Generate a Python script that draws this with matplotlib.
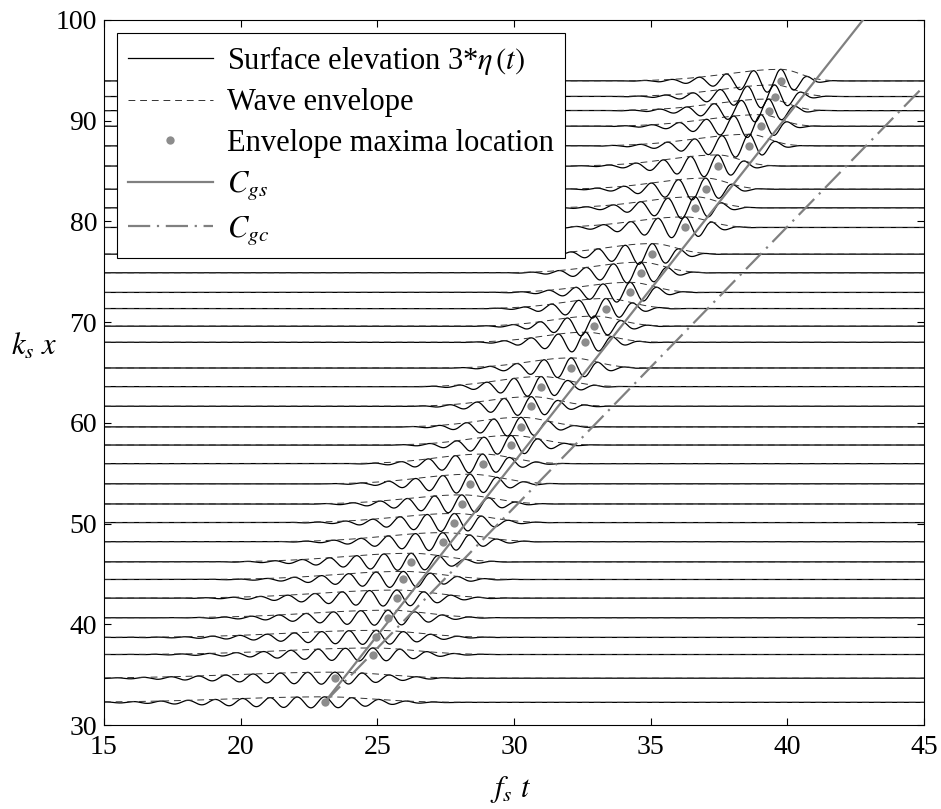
import numpy as np
import matplotlib.pyplot as plt
from matplotlib.lines import Line2D

# gauge positions k_s x and time of the envelope maximum f_s t at each gauge
levels = [32.25, 34.65, 37.0, 38.7, 40.65, 42.6, 44.45, 46.2, 48.2, 50.1,
          51.95, 53.95, 55.95, 57.8, 59.6, 61.65, 63.6, 65.45, 68.0, 69.6,
          71.35, 72.95, 74.9, 76.75, 79.4, 81.35, 83.2, 85.5, 87.5, 89.45,
          91.0, 92.4, 93.95]
t_max = [23.07, 23.45, 24.83, 24.96, 25.39, 25.71, 25.95, 26.24, 27.39, 27.82,
         28.09, 28.39, 28.85, 29.89, 30.25, 30.63, 30.99, 32.09, 32.61, 32.94,
         33.36, 34.25, 34.63, 35.06, 36.26, 36.62, 37.01, 37.45, 38.6, 39.03,
         39.31, 39.53, 39.76]
# envelope peak (3*eta) and rise / decay widths of each packet
amp = [0.55, 0.6, 0.65, 0.7, 0.75, 0.8, 0.8, 0.85, 0.9, 0.9,
       0.9, 0.95, 0.95, 0.95, 0.95, 0.95, 1.0, 1.0, 1.0, 1.0,
       1.0, 1.0, 1.05, 1.05, 1.05, 1.1, 1.1, 1.1, 1.15, 1.15,
       1.15, 1.15, 1.15]
rise = [5.0, 5.0, 4.5, 4.5, 4.0, 4.0, 3.5, 3.5, 3.0, 3.0,
        2.8, 2.6, 2.4, 2.2, 2.2, 2.2, 2.2, 2.2, 2.2, 2.2,
        2.2, 2.4, 2.4, 2.4, 2.6, 2.6, 2.6, 2.6, 2.8, 2.8,
        2.8, 2.8, 2.8]
decay = [2.5, 2.5, 2.2, 2.2, 2.0, 2.0, 2.0, 1.8, 1.8, 1.7,
         1.6, 1.6, 1.5, 1.5, 1.4, 1.4, 1.4, 1.3, 1.3, 1.3,
         1.3, 1.2, 1.2, 1.2, 1.2, 1.1, 1.1, 1.1, 1.0, 1.0,
         1.0, 1.0, 1.0]

c_gs = 3.44   # slope of the C_gs line
c_gc = 2.79   # slope of the C_gc line

plt.rcParams['font.family'] = ['Liberation Serif', 'DejaVu Serif']
plt.rcParams['mathtext.fontset'] = 'stix'

fig = plt.figure(figsize=(9.41, 8.09), dpi=100)
ax = fig.add_axes([0.1105, 0.1038, 0.8715, 0.8715])

env_dash = (0, (7, 5))
dashdot = (0, (10, 3, 1, 3))

t = np.linspace(15, 45, 4000)
for lv, tp, a, wl, wr in zip(levels, t_max, amp, rise, decay):
    s = t - tp
    env = np.where(s < 0, np.exp(-(s / wl) ** 2), np.exp(-(s / wr) ** 2))
    eta = a * env * np.cos(2 * np.pi * s)
    ax.plot(t, lv + eta, color='black', lw=0.9, zorder=2)
    ax.plot(t, lv + a * env, color='#333333', lw=0.7,
            linestyle=env_dash, zorder=2)

ax.plot(t_max, levels, 'o', color='#8c8c8c', ms=6, mec='none', zorder=4)

t0, v0 = t_max[0], levels[0]
t_end = min(45, t0 + (100 - v0) / c_gs)
ax.plot([t0, t_end], [v0, v0 + c_gs * (t_end - t0)], color='#808080',
        lw=1.6, zorder=3)
t_end = min(45, t0 + (100 - v0) / c_gc)
ax.plot([t0, t_end], [v0, v0 + c_gc * (t_end - t0)], color='#808080',
        lw=1.6, linestyle=dashdot, zorder=3)

ax.set_xlim(15, 45)
ax.set_ylim(30, 100)
ax.set_xticks(np.arange(15, 46, 5))
ax.set_yticks(np.arange(30, 101, 10))
ax.tick_params(direction='in', top=True, right=True, length=5,
               labelsize=20, width=0.8)
ax.tick_params(axis='x', pad=7)
ax.tick_params(axis='y', pad=5)
for sp in ax.spines.values():
    sp.set_linewidth(0.8)

ax.set_xlabel(r'$f_s\ t$', fontsize=22)
ax.xaxis.set_label_coords(0.496, -0.07)
ax.set_ylabel(r'$k_s\ x$', fontsize=22, rotation=0)
ax.yaxis.set_label_coords(-0.085, 0.515)

handles = [
    Line2D([], [], color='black', lw=0.9),
    Line2D([], [], color='#333333', lw=0.7, linestyle=env_dash),
    Line2D([], [], color='#8c8c8c', marker='o', ms=6, mec='none', lw=0),
    Line2D([], [], color='#808080', lw=1.6),
    Line2D([], [], color='#808080', lw=1.6, linestyle=dashdot),
]
labels = [r'Surface elevation 3*$\eta\,(t)$', 'Wave envelope',
          'Envelope maxima location', r'$C_{gs}$', r'$C_{gc}$']
leg = ax.legend(handles, labels, loc='upper left',
                bbox_to_anchor=(0.0159, 0.9816), borderaxespad=0,
                fontsize=22, handlelength=2.8, handletextpad=0.45,
                labelspacing=0.38, fancybox=False, framealpha=1,
                edgecolor='black', borderpad=0.35)
leg.get_frame().set_linewidth(0.8)
leg.set_zorder(10)

fig.savefig('out.png', dpi=100)
